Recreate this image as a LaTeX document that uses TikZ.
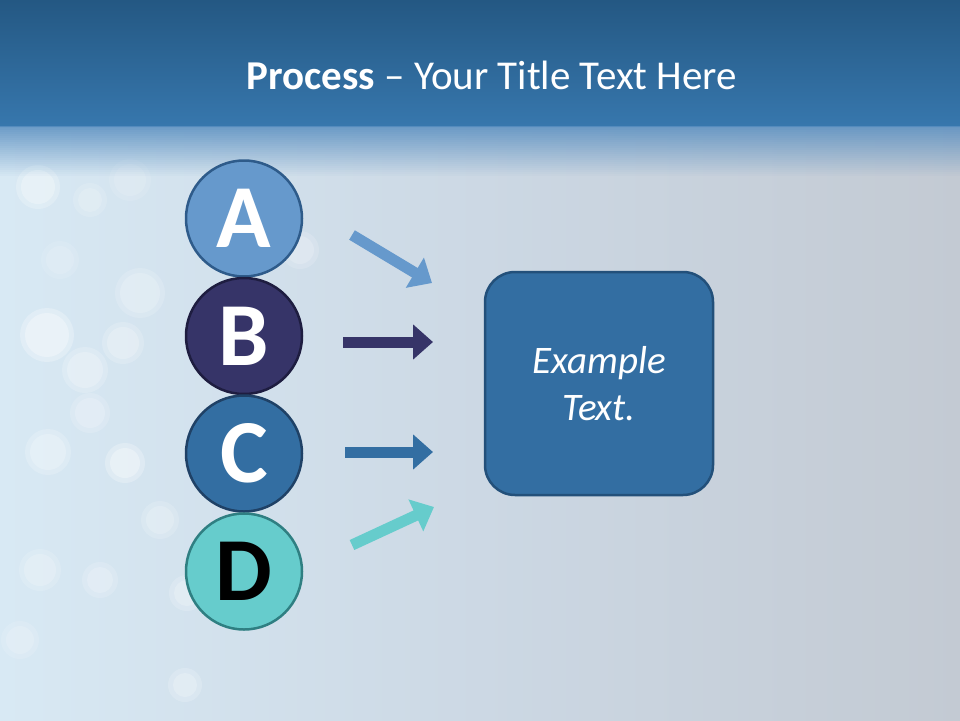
\documentclass[tikz,border=0pt]{standalone}
\usepackage{fontspec}
\setmainfont{Carlito}
\usetikzlibrary{arrows.meta}
\definecolor{bandtop}{HTML}{245883}
\definecolor{bandbot}{HTML}{3777AD}
\definecolor{bgleft}{HTML}{D8E9F4}
\definecolor{bgmid}{HTML}{CCD8E4}
\definecolor{bgright}{HTML}{C3CAD3}
\definecolor{cA}{HTML}{6699CC}
\definecolor{cAb}{HTML}{2E5B8A}
\definecolor{cB}{HTML}{363468}
\definecolor{cBb}{HTML}{1E1D40}
\definecolor{cC}{HTML}{336EA2}
\definecolor{cCb}{HTML}{1F4166}
\definecolor{cD}{HTML}{66CCCC}
\definecolor{cDb}{HTML}{2F7F82}
\definecolor{boxb}{HTML}{23507A}
\definecolor{haze}{HTML}{5A8FC0}
\tikzset{
  letter/.style={circle, minimum size=116pt, inner sep=0pt, line width=2.5pt,
    font=\fontsize{90}{90}\selectfont\bfseries},
  flow/.style={line width=11pt, -{Triangle[length=20pt,width=34pt]}},
  panel/.style={rounded corners=30pt, fill=cC, draw=boxb, line width=2.5pt,
    minimum width=228pt, minimum height=223pt, text=white, align=center,
    font=\fontsize{39}{47}\selectfont\itshape}
}
\begin{document}
\begin{tikzpicture}[x=1pt,y=-1pt]
\useasboundingbox (0,0) rectangle (960,720);
% background
\shade[left color=bgleft, right color=bgright, middle color=bgmid] (0,0) rectangle (960,720);
% bokeh (soft light spots)
\foreach \x/\y/\r/\o in {38/187/19/0.45, 47/335/24/0.5, 85/370/20/0.35, 48/452/20/0.35,
  125/463/17/0.5, 123/343/18/0.35, 140/293/22/0.3, 90/413/17/0.3, 40/570/18/0.3,
  100/580/15/0.3, 187/593/15/0.35, 185/685/14/0.35, 300/250/16/0.3, 90/200/14/0.25,
  130/180/18/0.2, 20/640/16/0.25, 160/520/16/0.3, 60/260/16/0.2}
  {\fill[white, opacity=\o*0.5] (\x,\y) circle (\r+3);
   \fill[white, opacity=\o*0.6] (\x,\y) circle (\r-2);}
% title band
\shade[top color=bandtop, bottom color=bandbot] (0,0) rectangle (960,126);
\foreach \i in {0,...,24}
  \fill[haze, opacity={0.85*(1-\i/25)}] (0,{126+2*\i}) rectangle (960,{128+2*\i});
\node[text=white, font=\fontsize{41}{41}\selectfont] (title) at (492,75)
  {\textbf{Process} – Your Title Text Here};
% circles
\node[letter, fill=cA, draw=cAb, text=white] (A) at (244,218.5) {A};
\node[letter, fill=cB, draw=cBb, text=white] (B) at (244,336) {B};
\node[letter, fill=cC, draw=cCb, text=white] (C) at (244,453.5) {C};
\node[letter, fill=cD, draw=cDb, text=black] (D) at (244,571.5) {D};
% box
\node[panel] (box) at (599,383.5) {Example\\Text.};
% arrows
\coordinate (a1) at (352,235); \coordinate (a2) at (432,283);
\coordinate (b1) at (343,342); \coordinate (b2) at (433,342);
\coordinate (c1) at (345,452); \coordinate (c2) at (433,452);
\coordinate (d1) at (352,545); \coordinate (d2) at (434,507);
\draw[flow, cA] (a1) -- (a2);
\draw[flow, cB] (b1) -- (b2);
\draw[flow, cC] (c1) -- (c2);
\draw[flow, cD] (d1) -- (d2);
\end{tikzpicture}
\end{document}
